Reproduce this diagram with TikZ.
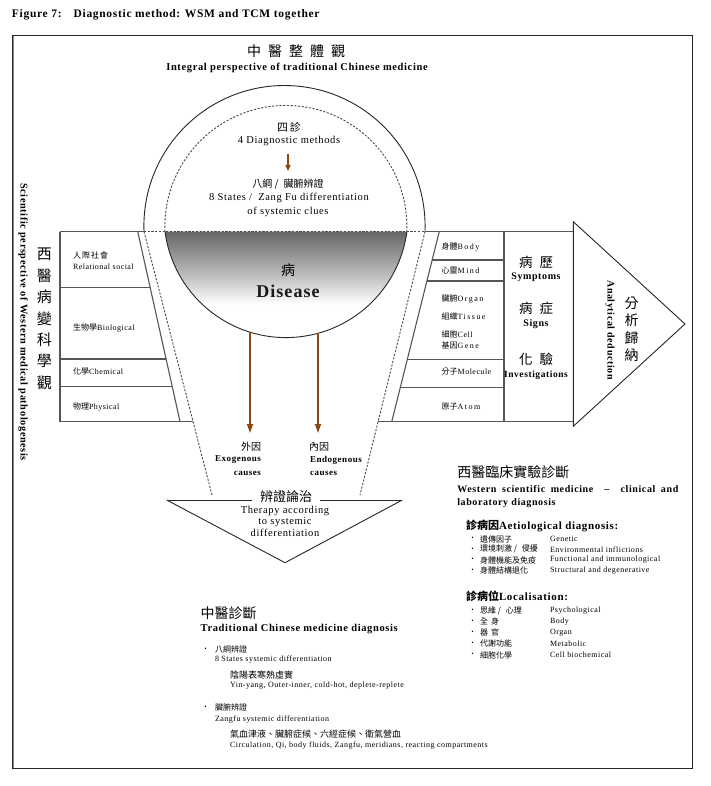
\documentclass[tikz,border=0pt]{standalone}
\usepackage{fontspec}
\setmainfont{Liberation Serif}[LetterSpace=6]
\newfontfamily\cjk{Noto Sans CJK TC}
\newfontfamily\widefont{Liberation Serif}[LetterSpace=18]
\usetikzlibrary{arrows.meta}
\newcommand{\fsz}[1]{\fontsize{#1}{#1}\selectfont}
\newcommand{\zh}[1]{{\cjk #1}}
\newcommand{\wideltr}[1]{{\widefont #1}}
\definecolor{arrowbrown}{RGB}{140,72,18}
\definecolor{tableline}{RGB}{85,85,85}
\pgfdeclareverticalshading{bowlshade}{100bp}{color(0bp)=(white); color(25bp)=(white); color(43bp)=(white); color(57bp)=(black!28); color(66bp)=(black!44); color(75bp)=(black!60); color(100bp)=(black!60)}
\begin{document}
\begin{tikzpicture}[x=1pt,y=-1pt,
  every node/.style={inner sep=0pt, outer sep=0pt},
  frame/.style={draw=black!85, line width=1pt},
  frameshadow/.style={draw=black!45, line width=1.6pt},
  solidline/.style={draw=black!85, line width=0.9pt},
  tline/.style={draw=tableline, line width=1.1pt},
  dashline/.style={draw=black!70, line width=0.9pt, dash pattern=on 2.2pt off 1.5pt},
  brownarrow/.style={draw=arrowbrown, line width=1.4pt, -{Triangle[length=9pt,width=6pt]}},
  smallarrow/.style={draw=arrowbrown, line width=1.3pt, -{Triangle[length=6pt,width=5pt]}},
  txt/.style={font=\fsz{8}, anchor=west},
  mid/.style={font=\fsz{10.5}},
  bhead/.style={font=\bfseries\fsz{10.5}, anchor=west},
  bigzh/.style={font=\cjk\fsz{14}, anchor=west},
  rowzh/.style={font=\cjk\fsz{8}, anchor=west},
  bul/.style={font=\cjk\fsz{7}, anchor=west}
]
\useasboundingbox (0,0) rectangle (711,786);
\fill[white] (0,0) rectangle (711,786);

% title
\node[anchor=west,font=\bfseries\fsz{11.5}] (title) at (12,15) {Figure 7:\hspace{12pt}Diagnostic method: WSM and TCM together};

% frame
\draw[frameshadow] (13,36) -- (13,768.5) -- (692,768.5);
\draw[frame] (12,36) rectangle (692,768);

% top headings
\node[font=\cjk\fsz{14}] (zgt) at (296,51) {中\hspace{7pt}醫\hspace{7pt}整\hspace{7pt}體\hspace{7pt}觀};
\node[font=\bfseries\fsz{10.5}] (integral) at (297,68) {Integral perspective of traditional Chinese medicine};

% bowl with gradient
\shade[shading=bowlshade]
  (165,231.5) arc[start angle=187.5,end angle=352.5,radius=122pt] -- cycle;
\draw[solidline] (165,231.5) arc[start angle=187.5,end angle=352.5,radius=122pt];
% outer circle and dashed inner circle
\draw[solidline] (144,231.5) arc[start angle=182.2,end angle=-2.2,radius=140.6pt];
\draw[dashline] (165,231.5) arc[start angle=182.4,end angle=-2.4,radius=121pt];
\draw[dashline] (144,231.5) -- (425,231.5);
% funnel dashed sides
\draw[dashline] (144,231.5) -- (212,495);
\draw[dashline] (425,231.5) -- (360,495);

% left table
\draw[tline] (60,231.5) -- (144,231.5);
\draw[tline] (137.7,231.5) -- (180,421.5);
\draw[tline] (60,231.5) -- (60,421.5) -- (193,421.5);
\draw[tline] (60,287.7) -- (150.2,287.7);
\draw[tline] (60,359) -- (166.1,359);
\draw[tline] (60,386.7) -- (172.3,386.7);

% right table
\draw[tline] (425,231.5) -- (573.3,231.5);
\draw[tline] (439.3,231.5) -- (391.8,421.5);
\draw[tline] (378,421.5) -- (573.3,421.5);
\draw[tline] (504,231.5) -- (504,421.5);
\draw[tline] (432.2,260) -- (504,260);
\draw[tline] (426.9,281) -- (504,281);
\draw[tline] (407.4,359.3) -- (504,359.3);
\draw[tline] (400.4,387.3) -- (504,387.3);

% big arrow
\draw[solidline] (573.3,221.7) -- (685,324) -- (573.3,426.3) -- cycle;

% therapy triangle
\draw[solidline] (166.7,500) -- (251.7,500);
\draw[solidline] (320,500) -- (402.3,500);
\draw[solidline] (166.7,500) -- (285,562.7) -- (402.3,500);

% circle texts
\node[font=\cjk\fsz{11}] (sizhen) at (289,127) {四\hspace{2pt}診};
\node[mid] (fourdm) at (289,141) {4 Diagnostic methods};
\coordinate (a1s) at (288,154);
\coordinate (a1e) at (288,171);
\draw[smallarrow] (a1s) -- (a1e);
\node[font=\cjk\fsz{10}] (bagang) at (288,184) {八綱 /\hspace{5pt}臟腑辨證};
\node[mid] (eightst) at (289,198) {8 States /\hspace{3pt} Zang Fu differentiation};
\node[mid] (ofsys) at (288,212) {of systemic clues};

% disease
\node[font=\cjk\fsz{14}] (bing) at (288,270) {病};
\node[font=\bfseries\fsz{18}, text=black!90] (disease) at (288,291) {Disease};

% causes arrows
\coordinate (exoS) at (250,332);
\coordinate (exoE) at (250,433);
\coordinate (endoS) at (318,333);
\coordinate (endoE) at (318,433);
\draw[brownarrow] (exoS) -- (exoE);
\draw[brownarrow] (endoS) -- (endoE);
\node[font=\cjk\fsz{10}, anchor=east] (waiyin) at (261,447) {外因};
\node[font=\bfseries\fsz{9}, anchor=east] (exo) at (261,460) {Exogenous};
\node[font=\bfseries\fsz{9}, anchor=east] (exoc) at (261,473) {causes};
\node[font=\cjk\fsz{10}, anchor=west] (neiyin) at (309,447) {內因};
\node[font=\bfseries\fsz{9}, anchor=west] (endo) at (310,460) {Endogenous};
\node[font=\bfseries\fsz{9}, anchor=west] (endoc) at (310,473) {causes};

% therapy texts
\node[font=\cjk\fsz{13}] (bianzheng) at (286,497) {辨證論治};
\node[mid] (therapy1) at (285,511) {Therapy according};
\node[mid] (therapy2) at (285,522) {to systemic};
\node[mid] (therapy3) at (285,533) {differentiation};

% left vertical texts
\node[rotate=-90, font=\bfseries\fsz{10.3}] (sci) at (23,322) {Scientific perspective of Western medical pathologenesis};
\node[font=\cjk\fsz{15}, align=center] (xiyi) at (44.3,319) {西\\[6.4pt]醫\\[6.4pt]病\\[6.4pt]變\\[6.4pt]科\\[6.4pt]學\\[6.4pt]觀};

% left table labels
\node[txt] (rel1) at (73,255) {\zh{人\hspace{1pt}際\hspace{1pt}社\hspace{1pt}會}};
\node[txt] (rel2) at (73,266.5) {Relational social};
\node[txt] (bio) at (73,328) {\zh{生物學}Biological};
\node[txt] (chem) at (73,371.7) {\zh{化學}Chemical};
\node[txt] (phys) at (73,406.7) {\zh{物理}Physical};

% right table labels
\node[txt] (body) at (441.7,246.7) {\zh{身體}\wideltr{Body}};
\node[txt] (mind) at (441.7,270.7) {\zh{心靈}\wideltr{Mind}};
\node[txt] (organ) at (441.7,299.3) {\zh{臟腑}\wideltr{Organ}};
\node[txt] (tissue) at (441.7,316.7) {\zh{組織}\wideltr{Tissue}};
\node[txt] (cell) at (441.7,334.7) {\zh{細胞}Cell};
\node[txt] (gene) at (441.7,345.7) {\zh{基因}\wideltr{Gene}};
\node[txt] (molecule) at (441.7,371.7) {\zh{分子}Molecule};
\node[txt] (atom) at (441.7,406.7) {\zh{原子}\wideltr{Atom}};

% right column
\node[font=\cjk\fsz{13.5}] (bingli) at (536,262) {病\hspace{7pt}歷};
\node[font=\bfseries\fsz{10}] (symptoms) at (536,277.3) {Symptoms};
\node[font=\cjk\fsz{13.5}] (bingzheng) at (536,308.3) {病\hspace{7pt}症};
\node[font=\bfseries\fsz{10}] (signs) at (536,324) {Signs};
\node[font=\cjk\fsz{13.5}] (huayan) at (536,359.3) {化\hspace{7pt}驗};
\node[font=\bfseries\fsz{9.5}] (invest) at (536,375.7) {Investigations};

% arrow texts
\node[rotate=-90, font=\bfseries\fsz{10}] (analytic) at (610,330) {Analytical deduction};
\node[font=\cjk\fsz{14}, align=center] (fenxi) at (631.7,329.5) {分\\[3.5pt]析\\[3.5pt]歸\\[3.5pt]納};

% western diagnosis block
\node[bigzh] (wzh) at (457.3,471.7) {西醫臨床實驗診斷};
\node[font=\bfseries\fsz{10}, anchor=west] (wen1) at (457.3,489.3) {\makebox[221pt][s]{Western scientific medicine \ -- \ clinical and}};
\node[font=\bfseries\fsz{10}, anchor=west] (wen2) at (457.3,503.3) {laboratory diagnosis};
\node[font=\bfseries\fsz{11}, anchor=west] (aet) at (466,526) {\zh{診病因}Aetiological diagnosis:};
\node[bul] (ab1) at (469,539) {・};
\node[rowzh] (az1) at (480,539) {遺傳因子};
\node[txt] (ae1) at (550,539) {Genetic};
\node[bul] (ab2) at (469,549.3) {・};
\node[rowzh] (az2) at (480,549.3) {環境刺激 /\hspace{5pt}侵擾};
\node[txt] (ae2) at (550,549.3) {Environmental inflictions};
\node[bul] (ab3) at (469,560) {・};
\node[rowzh] (az3) at (480,560) {身體機能及免疫};
\node[txt] (ae3) at (550,560) {Functional and immunological};
\node[bul] (ab4) at (469,570.7) {・};
\node[rowzh] (az4) at (480,570.7) {身體結構退化};
\node[txt] (ae4) at (550,570.7) {Structural and degenerative};

\node[font=\bfseries\fsz{11}, anchor=west] (loc) at (466,596.7) {\zh{診病位}Localisation:};
\node[bul] (lb1) at (469,611) {・};
\node[rowzh] (lz1) at (480,611) {思維 /\hspace{5pt}心理};
\node[txt] (le1) at (550,611) {Psychological};
\node[bul] (lb2) at (469,621.7) {・};
\node[rowzh] (lz2) at (480,621.7) {全\hspace{3pt}身};
\node[txt] (le2) at (550,621.7) {Body};
\node[bul] (lb3) at (469,632.7) {・};
\node[rowzh] (lz3) at (480,632.7) {器\hspace{3pt}官};
\node[txt] (le3) at (550,632.7) {Organ};
\node[bul] (lb4) at (469,643.3) {・};
\node[rowzh] (lz4) at (480,643.3) {代謝功能};
\node[txt] (le4) at (550,643.3) {Metabolic};
\node[bul] (lb5) at (469,655) {・};
\node[rowzh] (lz5) at (480,655) {細胞化學};
\node[txt] (le5) at (550,655) {Cell biochemical};

% TCM diagnosis block
\node[bigzh] (tzh) at (200.7,612.7) {中醫診斷};
\node[bhead] (ten) at (200.7,629.3) {Traditional Chinese medicine diagnosis};
\node[bul] (tb1) at (202,649.3) {・};
\node[rowzh] (tz1) at (215,649.3) {八綱辨證};
\node[txt] (te1) at (215,660) {8 States systemic differentiation};
\node[font=\cjk\fsz{9}, anchor=west] (tz1b) at (230,675) {陰陽表寒熱虛實};
\node[txt] (te1b) at (230,686) {Yin-yang, Outer-inner, cold-hot, deplete-replete};
\node[bul] (tb2) at (202,707.3) {・};
\node[rowzh] (tz2) at (215,707.3) {臟腑辨證};
\node[txt] (te2) at (215,720) {Zangfu systemic differentiation};
\node[font=\cjk\fsz{9}, anchor=west] (tz2b) at (230,734) {氣血津液、臟腑症候、六經症候、衛氣營血};
\node[txt] (te2b) at (230,746) {Circulation, Qi, body fluids, Zangfu, meridians, reacting compartments};
\end{tikzpicture}
\end{document}
